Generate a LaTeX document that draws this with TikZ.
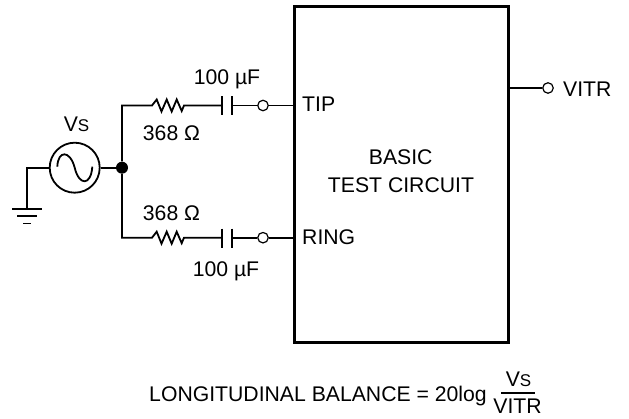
\documentclass[tikz,border=0pt]{standalone}
\usepackage{fontspec}
\setmainfont{Liberation Sans}
\newcommand{\VsText}{V\fontsize{17}{19}\selectfont S}
\tikzset{
  wire/.style={line width=1.8pt,line join=miter},
  plate/.style={line width=2.2pt},
  term/.style={circle,draw,line width=1.2pt,fill=white,minimum size=10.5pt,inner sep=0pt},
  lbl/.style={inner sep=0pt,anchor=base,font=\fontsize{21.2}{25}\selectfont},
  dot/.style={circle,fill=black,minimum size=12pt,inner sep=0pt},
  source/.style={circle,draw,line width=1.8pt,minimum size=50pt,inner sep=0pt}
}
\begin{document}
\begin{tikzpicture}[x=1pt,y=-1pt]
\useasboundingbox (0,0) rectangle (629,419);
% main box
\node[draw,line width=3pt,minimum width=214pt,minimum height=336pt,inner sep=0pt] (box) at (401,175) {};
\node[lbl] (boxa) at (400.7,165) {BASIC};
\node[lbl] (boxb) at (401,192.7) {TEST CIRCUIT};
% source
\node[source] (src) at (74.7,167.7) {};
\draw[wire] (57.3,166.7) .. controls (58,150) and (70,150) .. (74.7,167.7) .. controls (79,186) and (91,186) .. (92.3,166.7);
\node[lbl] (vs) at (76.5,131.7) {\VsText};
\node[dot] (j) at (122,167.7) {};
\draw[wire] (src) -- (j);
% ground
\coordinate (g0) at (27,167.7);
\coordinate (g1) at (27,208.7);
\draw[wire] (src.west) -- (g0) -- (g1);
\draw[wire] (12,208.7) -- (42,208.7);
\draw[wire] (17,216) -- (37,216);
\draw[wire] (23,223.5) -- (31,223.5);
% top branch
\coordinate (tr) at (122,105.5);
\node[term] (t1) at (263,105.5) {};
\coordinate (tb) at (294,105.5);
\draw[wire] (j) -- (tr) -- (152,105.5) -- (156.7,99.5) -- (161.5,111.5) -- (166.7,99.5) -- (171.7,111.5) -- (176.7,99.5) -- (181.7,111) -- (184,105.5) -- (222,105.5);
\draw[plate] (222,96.5) -- (222,115.5);
\draw[plate] (232,96.5) -- (232,115.5);
\draw[wire] (232,105.5) -- (t1);
\draw[wire] (t1) -- (tb);
% bottom branch
\coordinate (br) at (122,237.7);
\node[term] (t2) at (263,237.7) {};
\coordinate (bb) at (294,237.7);
\draw[wire] (j) -- (br) -- (152,237.7) -- (156.7,231.7) -- (161.5,243.7) -- (166.7,231.7) -- (171.7,243.7) -- (176.7,231.7) -- (181.7,243.2) -- (184,237.7) -- (222,237.7);
\draw[plate] (222,228.7) -- (222,247.7);
\draw[plate] (232,228.7) -- (232,247.7);
\draw[wire] (232,237.7) -- (t2);
\draw[wire] (t2) -- (bb);
% VITR
\node[term] (t3) at (548,88) {};
\coordinate (vb) at (508,88);
\draw[wire] (vb) -- (t3);
\node[lbl,anchor=base west] (vitr) at (563,96.7) {VITR};
% labels
\node[lbl] (c1) at (227,85) {100 µF};
\node[lbl] (r1) at (171.5,141) {368 Ω};
\node[lbl] (r2) at (171.5,221) {368 Ω};
\node[lbl] (c2) at (226,276.7) {100 µF};
\node[lbl,anchor=base west] (tip) at (302,111.7) {TIP};
\node[lbl,anchor=base west] (ring) at (302,245) {RING};
\node[lbl,anchor=base east] (eq) at (487,401.5) {LONGITUDINAL BALANCE = 20log};
\node[lbl] (num) at (518.5,386.7) {\VsText};
\node[lbl] (den) at (517.5,413) {VITR};
\coordinate (ra) at (501,392.7);
\coordinate (rb) at (535,392.7);
\draw[line width=1.8pt] (ra) -- (rb);
\end{tikzpicture}
\end{document}
